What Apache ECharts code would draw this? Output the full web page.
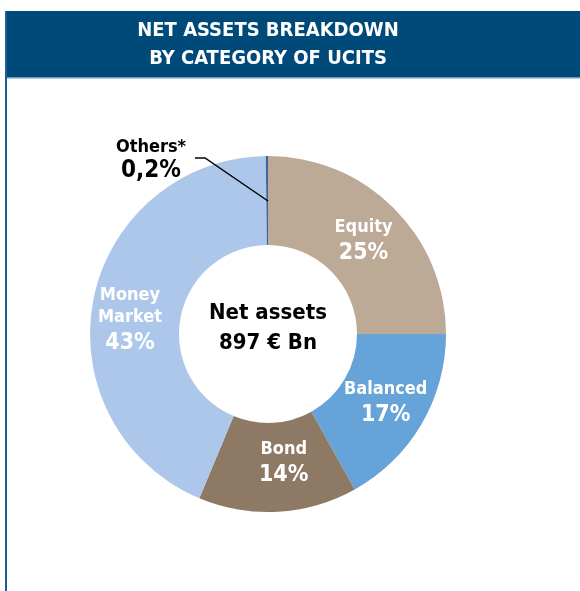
<!DOCTYPE html>
<html>
<head>
<meta charset="utf-8">
<script src="https://cdn.jsdelivr.net/npm/echarts@6/dist/echarts.min.js"></script>
<style>
html,body{margin:0;padding:0;background:#fff;}
#c{width:580px;height:591px;}
</style>
</head>
<body>
<div id="c"></div>
<script>
var categories = ['Equity', 'Balanced', 'Bond', 'Money\nMarket', 'Others*'];
var values = [25.0, 16.9, 14.4, 43.5, 0.2];
var labels = ['25%', '17%', '14%', '43%', '0,2%'];
var colors = ['#bcaa96', '#66a3d9', '#8e7964', '#adc7ea', '#3f64a0'];
var titleLines = ['NET ASSETS BREAKDOWN', 'BY CATEGORY OF UCITS'];
var centerLines = ['Net assets', '897 € Bn'];

var FONT = '"DejaVu Sans Condensed", "DejaVu Sans", sans-serif';
var chart = echarts.init(document.getElementById('c'), null, {renderer: 'canvas'});

// label nudges (layout only)
var labelShift = {0: [-1, 5], 1: [0, 1], 2: [8, -6], 3: [-4, 13]};

var data = categories.map(function (c, i) {
  return {
    name: c,
    value: values[i],
    itemStyle: {color: colors[i]},
    label: {
      show: i < 4,
      formatter: function () { return '{n|' + c + '}\n{p|' + labels[i] + '}'; }
    }
  };
});

chart.setOption({
  animation: false,
  graphic: [
    {type: 'rect', shape: {x: 5, y: 11, width: 575, height: 67}, style: {fill: '#004a7a'}, z: 1},
    {type: 'rect', shape: {x: 5, y: 77, width: 575, height: 1.5}, style: {fill: '#6f9cc0'}, z: 2},
    {type: 'rect', shape: {x: 5, y: 11, width: 2, height: 580}, style: {fill: '#1b5f93'}, z: 2},
    {type: 'text', x: 268, y: 31, style: {text: titleLines[0], fill: '#fff', font: 'bold 20px ' + FONT, align: 'center', verticalAlign: 'middle'}, z: 3},
    {type: 'text', x: 268, y: 59, style: {text: titleLines[1], fill: '#fff', font: 'bold 20px ' + FONT, align: 'center', verticalAlign: 'middle'}, z: 3},
    {type: 'text', x: 268, y: 313, style: {text: centerLines[0], fill: '#000', font: 'bold 22px ' + FONT, align: 'center', verticalAlign: 'middle'}, z: 3},
    {type: 'text', x: 268, y: 343, style: {text: centerLines[1], fill: '#000', font: 'bold 22px ' + FONT, align: 'center', verticalAlign: 'middle'}, z: 3},
    {type: 'text', x: 151, y: 147, style: {text: categories[4], fill: '#000', font: 'bold 18px ' + FONT, align: 'center', verticalAlign: 'middle'}, z: 3},
    {type: 'text', x: 151, y: 171, style: {text: labels[4], fill: '#000', font: 'bold 24px ' + FONT, align: 'center', verticalAlign: 'middle'}, z: 3},
    {type: 'polyline', shape: {points: [[195, 158], [205, 158], [268, 201]]}, style: {stroke: '#000', lineWidth: 1.5, fill: null}, z: 5}
  ],
  series: [{
    type: 'pie',
    center: [268, 334],
    radius: [89, 178],
    startAngle: 90,
    clockwise: true,
    avoidLabelOverlap: false,
    labelLine: {show: false},
    labelLayout: function (p) {
      var s = labelShift[p.dataIndex] || [0, 0];
      return {dx: s[0], dy: s[1]};
    },
    label: {
      position: 'inside',
      color: '#fff',
      fontFamily: FONT,
      rich: {
        n: {fontSize: 18, fontWeight: 'bold', color: '#fff', fontFamily: FONT, lineHeight: 22, align: 'center'},
        p: {fontSize: 23, fontWeight: 'bold', color: '#fff', fontFamily: FONT, lineHeight: 30, align: 'center'}
      }
    },
    emphasis: {disabled: true},
    itemStyle: {borderWidth: 0},
    data: data
  }]
});
</script>
</body>
</html>
